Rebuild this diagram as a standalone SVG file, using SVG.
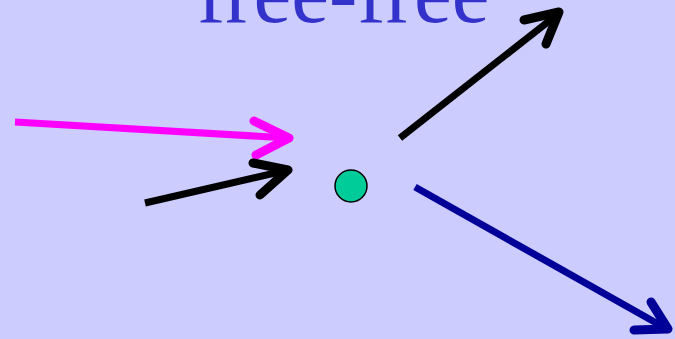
<svg xmlns="http://www.w3.org/2000/svg" width="675" height="339" viewBox="0 0 675 339">
<style>
.a{fill:none;stroke-width:7;stroke-linecap:butt}
.h{fill:none;stroke-width:9;stroke-linecap:round;stroke-linejoin:round}
.t{font-family:"Liberation Serif","Times New Roman",serif;font-size:85px;fill:#3333CC}
</style>
<rect width="675" height="339" fill="#CCCCFF"/>
<text class="t" x="197" y="22">free-free</text>
<g id="connectors">
<g id="magenta" stroke="#FF00FF">
<line class="a" x1="15" y1="122" x2="288" y2="138"/>
<polyline class="h" points="254,121 289,138 256,155"/>
</g>
<g id="black-in" stroke="#000000">
<line class="a" x1="145" y1="203" x2="288" y2="170"/>
<polyline class="h" points="253,163 288,170 260,195"/>
</g>
<g id="black-out" stroke="#000000">
<line class="a" x1="400" y1="138" x2="558" y2="14"/>
<polyline class="h" points="524,20 559,12 546,44"/>
</g>
<g id="blue-out" stroke="#000099">
<line class="a" x1="415" y1="187" x2="667" y2="329"/>
<polyline class="h" points="651,302 668,329 634,330"/>
</g>
</g>
<g id="particle">
<circle cx="351" cy="186" r="16" fill="#00CC99" stroke="#000000" stroke-width="1.5"/>
</g>
</svg>
